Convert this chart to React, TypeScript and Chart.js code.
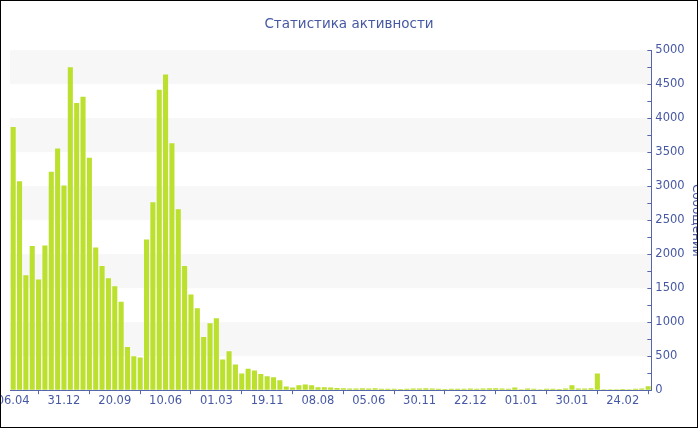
import React, { useEffect, useRef } from "react";
import { Chart, registerables } from "chart.js";

Chart.register(...registerables);

const CHART_TITLE = "Статистика активности";
const Y_TITLE = "Сообщений";

// labels shown under every 8th bar
const TICK_LABELS = [
  "06.04", "31.12", "20.09", "10.06", "01.03", "19.11", "08.08",
  "05.06", "30.11", "22.12", "01.01", "30.01", "24.02",
];
const LABEL_STEP = 8;

const VALUES = [
  3872, 3074, 1691, 2122, 1628, 2127, 3211, 3554, 3010, 4750,
  4225, 4314, 3417, 2098, 1828, 1647, 1529, 1299, 637, 500,
  480, 2216, 2765, 4417, 4642, 3632, 2662, 1828, 1407, 1206,
  784, 985, 1059, 451, 574, 377, 245, 314, 289, 240,
  206, 191, 147, 54, 39, 74, 83, 74, 44, 44,
  39, 34, 29, 25, 25, 29, 25, 29, 20, 22,
  20, 18, 22, 25, 25, 29, 25, 20, 18, 20,
  22, 20, 25, 22, 25, 29, 29, 25, 20, 39,
  15, 25, 20, 15, 20, 22, 18, 25, 74, 25,
  25, 29, 245, 15, 15, 15, 18, 15, 20, 25,
  59,
];

const CATEGORIES = VALUES.map((_, i) =>
  i % LABEL_STEP === 0 ? TICK_LABELS[i / LABEL_STEP] ?? "" : ""
);

const Y_MIN = 0;
const Y_MAX = 5000;
const Y_MINOR_STEP = 250;
const Y_LABEL_STEP = 500;
const BAND_STARTS = [500, 1500, 2500, 3500, 4500];
const BAND_SIZE = 500;

const BAR_COLOR = "#bbe02d";
const TEXT_COLOR = "#4658a3";
const AXIS_COLOR = "#5566ad";
const BAND_COLOR = "#f7f7f7";
const FONT = "'DejaVu Sans', Verdana, sans-serif";

const bandsPlugin = {
  id: "bands",
  beforeDraw(chart: any) {
    const { ctx, chartArea, scales } = chart;
    const y = scales.y;
    ctx.save();
    ctx.fillStyle = BAND_COLOR;
    for (const b of BAND_STARTS) {
      const top = y.getPixelForValue(b + BAND_SIZE);
      const bot = y.getPixelForValue(b);
      ctx.fillRect(chartArea.left, top, chartArea.right - chartArea.left, bot - top);
    }
    ctx.restore();
  },
};

const innerTicksPlugin = {
  id: "innerTicks",
  afterDatasetsDraw(chart: any) {
    const { ctx, chartArea, scales } = chart;
    const y = scales.y;
    ctx.save();
    ctx.strokeStyle = AXIS_COLOR;
    ctx.lineWidth = 1;
    for (const t of y.ticks) {
      const py = Math.round(y.getPixelForValue(t.value)) + 0.5;
      ctx.beginPath();
      ctx.moveTo(chartArea.right - 4, py);
      ctx.lineTo(chartArea.right, py);
      ctx.stroke();
    }
    ctx.restore();
  },
};

export default function App() {
  const ref = useRef<HTMLCanvasElement | null>(null);

  useEffect(() => {
    if (!ref.current) return;
    const chart = new Chart(ref.current, {
      type: "bar",
      data: {
        labels: CATEGORIES,
        datasets: [
          {
            data: VALUES,
            backgroundColor: BAR_COLOR,
            borderWidth: 0,
            barPercentage: 0.8,
            categoryPercentage: 1,
          },
        ],
      },
      options: {
        animation: false,
        responsive: true,
        maintainAspectRatio: false,
        layout: { padding: { left: 0, right: 0, top: 0, bottom: 19 } },
        plugins: {
          legend: { display: false },
          tooltip: { enabled: false },
          title: {
            display: true,
            text: CHART_TITLE,
            color: TEXT_COLOR,
            font: { family: FONT, size: 13.5, weight: "normal" },
            padding: { top: 15, bottom: 18 },
          },
        },
        scales: {
          x: {
            type: "category",
            offset: true,
            afterFit(scale: any) {
              scale.paddingLeft = 9;
              scale.paddingRight = 0;
            },
            grid: {
              display: true,
              drawOnChartArea: false,
              drawTicks: true,
              tickLength: 4,
              color: AXIS_COLOR,
            },
            border: { display: true, color: AXIS_COLOR, width: 1 },
            ticks: {
              autoSkip: false,
              maxRotation: 0,
              minRotation: 0,
              padding: 0,
              color: TEXT_COLOR,
              font: { family: FONT, size: 11.5 },
              callback: (_v: any, i: number) => (CATEGORIES[i] === "" ? null : CATEGORIES[i]),
            },
          },
          y: {
            position: "right",
            min: Y_MIN,
            max: Y_MAX,
            grid: { display: true, drawOnChartArea: false, drawTicks: false },
            border: { display: true, color: AXIS_COLOR, width: 1 },
            ticks: {
              stepSize: Y_MINOR_STEP,
              padding: 4,
              color: TEXT_COLOR,
              font: { family: FONT, size: 11.5 },
              callback: (v: any) => (Number(v) % Y_LABEL_STEP === 0 ? String(v) : ""),
            },
            title: {
              display: true,
              text: Y_TITLE,
              color: TEXT_COLOR,
              font: { family: FONT, size: 12 },
              padding: { top: -6, bottom: 0 },
            },
          },
        },
      },
      plugins: [bandsPlugin, innerTicksPlugin],
    });
    return () => chart.destroy();
  }, []);

  return (
    <div
      style={{
        position: "fixed",
        left: 0,
        top: 0,
        width: 698,
        height: 428,
        boxSizing: "border-box",
        border: "1px solid #000",
        background: "#fff",
      }}
    >
      <div style={{ position: "relative", width: "100%", height: "100%" }}>
        <canvas ref={ref} />
      </div>
    </div>
  );
}
